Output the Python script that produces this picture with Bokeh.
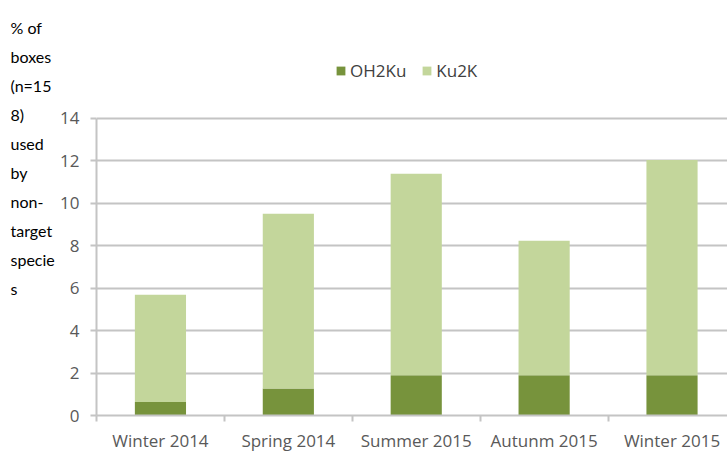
from bokeh.plotting import figure
from bokeh.models import ColumnDataSource, Range1d, FixedTicker, Label
from bokeh.layouts import row
from bokeh.embed import file_html
from bokeh.resources import INLINE

# ---- data ----
categories = ["Winter 2014", "Spring 2014", "Summer 2015", "Autunm 2015", "Winter 2015"]
oh2ku = [0.63, 1.27, 1.90, 1.90, 1.90]
ku2k = [5.06, 8.23, 9.49, 6.33, 10.13]
series_names = ["OH2Ku", "Ku2K"]
y_ticks = [0, 2, 4, 6, 8, 10, 12, 14]
y_title_lines = ["% of", "boxes", "(n=15", "8)", "used", "by", "non-", "target", "specie", "s"]

# ---- style ----
DARK = "#77933C"
LIGHT = "#C3D69B"
GRID = "#C4C4C4"
TICK_TXT = "#595959"
FONT = "Open Sans"
TITLE_FONT = "Lato"

TOTAL_H = 454
FRAME_H = 416
BOTTOM = TOTAL_H - FRAME_H
LEFT_W = 57
BORDER_L = 36
MAIN_W = 727 - LEFT_W

# ---- left strip holding the wrapped y-axis title ----
fa = figure(width=LEFT_W, height=TOTAL_H, output_backend="svg", toolbar_location=None,
            x_range=Range1d(0, LEFT_W), y_range=Range1d(0, FRAME_H),
            min_border_left=0, min_border_right=0, min_border_top=0,
            min_border_bottom=BOTTOM, x_axis_type=None, y_axis_type=None)
fa.outline_line_color = None
fa.xgrid.visible = False
fa.ygrid.visible = False
for i, line in enumerate(y_title_lines):
    fa.add_layout(Label(x=10, y=FRAME_H - 28 - 29 * i, x_units="screen", y_units="screen",
                        text=line, text_font=TITLE_FONT, text_font_size="16px",
                        text_color="black", text_baseline="alphabetic"))

# ---- main chart ----
x_pos = [i + 0.5 for i in range(len(categories))]
source = ColumnDataSource(dict(x=x_pos, cat=categories, OH2Ku=oh2ku, Ku2K=ku2k))

px_per_unit = 298 / 14.0
y_end = FRAME_H / px_per_unit
x_end = (MAIN_W - BORDER_L) / 128.5

p = figure(width=MAIN_W, height=TOTAL_H, output_backend="svg", toolbar_location=None,
           x_range=Range1d(0, x_end), y_range=Range1d(0, y_end),
           min_border_left=BORDER_L, min_border_right=0, min_border_top=0,
           min_border_bottom=BOTTOM)
p.outline_line_color = None

p.vbar_stack(series_names, x="x", width=0.4, color=[DARK, LIGHT], line_color=None,
             source=source, legend_label=series_names)

# x axis: labels at category centres, tick marks at category boundaries
xa = p.xaxis[0]
xa.ticker = FixedTicker(ticks=x_pos, minor_ticks=list(range(len(categories) + 1)))
xa.major_label_overrides = {x: c for x, c in zip(x_pos, categories)}
xa.major_tick_out = 0
xa.major_tick_in = 0
xa.minor_tick_out = 6
xa.minor_tick_in = 0
xa.minor_tick_line_color = GRID
xa.minor_tick_line_width = 2
xa.axis_line_color = GRID
xa.axis_line_width = 2
xa.major_label_standoff = 7
xa.major_label_text_font = FONT
xa.major_label_text_font_size = "17px"
xa.major_label_text_color = TICK_TXT

# y axis
ya = p.yaxis[0]
ya.ticker = FixedTicker(ticks=y_ticks)
ya.bounds = (0, 14)
ya.major_tick_out = 6
ya.major_tick_in = 0
ya.minor_tick_out = 0
ya.minor_tick_in = 0
ya.major_tick_line_color = GRID
ya.major_tick_line_width = 2
ya.axis_line_color = GRID
ya.axis_line_width = 2
ya.major_label_standoff = 11
ya.major_label_text_font = FONT
ya.major_label_text_font_size = "17px"
ya.major_label_text_color = TICK_TXT

p.xgrid.grid_line_color = None
p.ygrid.ticker = FixedTicker(ticks=y_ticks)
p.ygrid.grid_line_color = GRID
p.ygrid.grid_line_width = 2

# legend (inside the frame, above the 14 gridline)
lg = p.legend[0]
lg.orientation = "horizontal"
lg.location = (332 - LEFT_W - BORDER_L, FRAME_H - 83)
lg.padding = 0
lg.margin = 0
lg.spacing = 15
lg.glyph_width = 11
lg.glyph_height = 11
lg.label_standoff = 4
lg.label_height = 20
lg.label_text_font = FONT
lg.label_text_font_size = "17px"
lg.label_text_color = "#404040"
lg.border_line_color = None
lg.background_fill_alpha = 0

open("out.html", "w").write(file_html(row(fa, p), INLINE))
